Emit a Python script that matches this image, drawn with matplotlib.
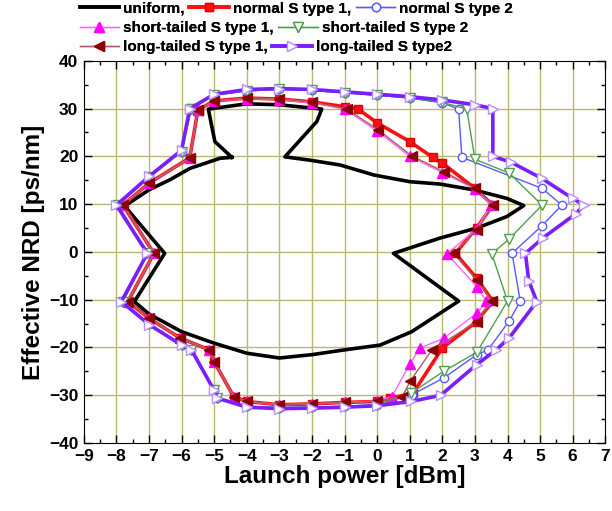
import numpy as np
import matplotlib
matplotlib.use("Agg")
import matplotlib.pyplot as plt
from matplotlib.ticker import MultipleLocator

plt.rcParams['font.family'] = ['Liberation Sans', 'DejaVu Sans']
plt.rcParams['font.weight'] = 'bold'

#### contour data: launch power [dBm] vs effective NRD [ps/nm]
uniform_x = [-4.46, -4.98, -5.18, -4.0, -3.0, -1.7, -1.85, -2.83, -2.06, -1.14, -0.1, 1.0, 1.93, 2.96, 3.98, 4.5,
             3.98, 3.06, 1.93, 0.5, 2.5, 1.06, 0.09, -1.0, -2.0, -3.0, -4.0, -5.0, -6.0, -7.0, -7.45, -6.52,
             -7.75, -7.0, -6.36, -5.74, -4.82, -4.46]
uniform_y = [19.8, 23.1, 29.9, 31.0, 30.8, 29.9, 27.3, 19.9, 19.2, 18.2, 16.1, 14.7, 14.2, 13.0, 11.2, 9.7,
             7.4, 5.0, 2.9, -0.3, -10.3, -16.7, -19.5, -20.5, -21.5, -22.2, -21.2, -19.1, -16.7, -13.0, -10.4, -0.3,
             9.6, 13.0, 15.1, 17.5, 19.6, 19.8]

normal1_x = [-5.5, -5.0, -4.0, -3.0, -2.0, -1.0, -0.6, 0.0, 1.0, 1.7, 2.0, 3.0, 3.55, 3.05, 2.4, 3.05, 3.55,
             3.05, 2.0, 1.1, 0.4, 0.0, -1.0, -2.0, -3.0, -4.0, -4.4, -5.0, -5.15, -6.05, -7.0, -7.65, -6.85,
             -7.8, -7.0, -5.75, -5.5]
normal1_y = [29.7, 31.6, 32.2, 32.0, 31.4, 30.4, 30.0, 27.0, 23.1, 19.8, 18.6, 13.3, 9.8, 5.0, -0.3, -5.5, -10.3,
             -14.6, -20.1, -29.6, -30.6, -31.3, -31.5, -31.8, -32.0, -31.3, -30.3, -23.0, -20.5, -18.0, -13.9, -10.4, -0.3,
             9.8, 14.4, 19.7, 29.7]

normal2_x = [-5.7, -5.0, -4.0, -3.0, -2.0, -1.0, 0.0, 1.0, 2.0, 2.5, 2.6, 5.06, 5.67, 5.06, 4.14, 4.39, 4.05,
             3.4, 3.06, 2.04, 1.06, 0.0, -1.0, -2.0, -3.0, -4.0, -4.9, -5.0, -5.7, -6.0, -7.0, -7.8, -7.05,
             -7.95, -7.0, -6.0, -5.7]
normal2_y = [30.0, 32.8, 33.7, 34.0, 33.8, 33.3, 32.8, 32.2, 31.2, 29.9, 19.8, 13.3, 9.8, 5.5, -0.3, -10.3, -14.5,
             -20.5, -21.5, -26.4, -29.9, -32.0, -32.3, -32.5, -32.6, -32.3, -30.5, -28.8, -20.5, -19.5, -15.0, -10.4, -0.3,
             9.8, 15.6, 21.0, 30.0]

short1_x = [-5.5, -5.0, -4.0, -3.0, -2.0, -1.0, 0.0, 1.0, 2.0, 3.0, 3.5, 3.05, 2.14, 3.06, 3.35, 3.06, 2.04,
            1.32, 1.01, 0.45, 0.0, -1.0, -2.0, -3.0, -4.0, -4.4, -5.0, -5.15, -6.05, -7.0, -7.65, -6.85,
            -7.8, -7.0, -5.75, -5.5]
short1_y = [29.7, 31.5, 32.1, 31.9, 31.2, 29.9, 25.3, 20.0, 16.6, 13.2, 9.8, 4.8, -0.4, -7.3, -10.3, -12.8, -18.1,
            -20.1, -23.4, -30.3, -31.2, -31.5, -31.8, -32.0, -31.3, -30.3, -23.0, -20.5, -18.0, -13.9, -10.4, -0.3,
            9.8, 14.4, 19.7, 29.7]

short2_x = [-5.7, -5.0, -4.0, -3.0, -2.0, -1.0, 0.0, 1.0, 2.0, 2.75, 3.0, 4.05, 5.06, 4.05, 3.52, 4.0, 3.06,
            2.04, 1.03, 0.0, -1.0, -2.0, -3.0, -4.0, -4.9, -5.0, -5.7, -6.0, -7.0, -7.8, -7.05,
            -7.95, -7.0, -6.0, -5.7]
short2_y = [30.0, 32.8, 33.7, 34.0, 33.8, 33.3, 32.8, 32.2, 31.3, 29.9, 19.4, 16.5, 9.8, 2.7, -0.4, -10.3, -21.0,
            -25.0, -29.6, -32.0, -32.3, -32.5, -32.6, -32.3, -30.5, -28.8, -20.5, -19.5, -15.0, -10.4, -0.3,
            9.8, 15.6, 21.0, 30.0]

long1_x = [-5.5, -5.0, -4.0, -3.0, -2.0, -0.93, 0.04, 1.06, 2.04, 3.0, 3.57, 3.06, 2.35, 3.06, 3.52, 3.06,
           1.68, 1.01, 0.76, 0.0, -1.0, -2.0, -3.0, -4.0, -4.4, -5.0, -5.15, -6.05, -7.0, -7.65, -6.85,
           -7.8, -7.0, -5.75, -5.5]
long1_y = [29.7, 31.6, 32.2, 32.0, 31.4, 29.9, 25.5, 20.1, 16.8, 13.3, 9.8, 4.6, -0.3, -5.9, -10.3, -14.6,
           -20.5, -27.1, -30.4, -31.3, -31.5, -31.8, -32.0, -31.3, -30.3, -23.0, -20.5, -18.0, -13.9, -10.4, -0.3,
           9.8, 14.4, 19.7, 29.7]

long2_x = [-5.75, -5.0, -4.0, -3.0, -2.0, -1.0, 0.0, 1.0, 2.0, 3.0, 3.55, 3.55, 4.1, 5.05, 6.0, 6.35, 6.1,
           5.1, 4.55, 4.65, 4.9, 4.05, 3.65, 3.05, 1.95, 1.05, 0.0, -1.0, -2.0, -3.0, -4.0, -4.9, -5.0,
           -5.7, -6.0, -7.0, -7.85, -7.05, -8.0, -7.0, -6.0, -5.75]
long2_y = [30.0, 33.0, 34.0, 34.2, 34.0, 33.5, 33.0, 32.5, 31.8, 30.8, 30.0, 20.0, 18.8, 15.4, 11.2, 9.8, 8.0,
           3.0, -0.3, -6.0, -10.4, -18.0, -20.5, -23.6, -30.0, -31.3, -32.2, -32.5, -32.7, -32.8, -32.5, -30.6, -29.0,
           -20.5, -19.5, -15.2, -10.4, -0.3, 9.8, 15.8, 21.3, 30.0]

fig = plt.figure(figsize=(6.12, 5.11), dpi=100)
ax = fig.add_axes([0.137, 0.133, 0.852, 0.748])

grid_col = '#bcb870'
for gx in np.arange(-8, 7, 1):
    ax.axvline(gx, color=grid_col, lw=1.0, zorder=0)
for gy in np.arange(-30, 40, 10):
    ax.axhline(gy, color=grid_col, lw=1.0, zorder=0)

h_uni, = ax.plot(uniform_x, uniform_y, color='black', lw=2.6, label='uniform,')
h_n1, = ax.plot(normal1_x, normal1_y, color='#ff1010', lw=2.6, marker='s', ms=5.5,
                mfc='#ff1010', mec='#e00000', label='normal S type 1,')
h_n2, = ax.plot(normal2_x, normal2_y, color='#5a5aff', lw=1.0, marker='o', ms=6,
                mfc='white', mec='#5a5aff', label='normal S type 2')
h_s1, = ax.plot(short1_x, short1_y, color='#ff66ff', lw=1.0, marker='^', ms=6.5,
                mfc='#ff00ff', mec='#ff00ff', label='short-tailed S type 1,')
h_s2, = ax.plot(short2_x, short2_y, color='#50a050', lw=1.0, marker='v', ms=6.5,
                mfc='white', mec='#50a050', label='short-tailed S type 2')
h_l1, = ax.plot(long1_x, long1_y, color='#a86060', lw=1.0, marker='<', ms=6.5,
                mfc='#8b0000', mec='#8b0000', label='long-tailed S type 1,')
h_l2, = ax.plot(long2_x, long2_y, color='#7a1eff', lw=2.6, marker='>', ms=7.5,
                mfc='white', mec='#b890ff', label='long-tailed S type2')

ax.set_xlim(-9, 7)
ax.set_ylim(-40, 40)
ax.xaxis.set_major_locator(MultipleLocator(1))
ax.xaxis.set_minor_locator(MultipleLocator(0.5))
ax.yaxis.set_major_locator(MultipleLocator(10))
ax.yaxis.set_minor_locator(MultipleLocator(5))
ax.tick_params(which='both', direction='in', top=True, right=True, width=1.0)
ax.tick_params(which='major', length=6, labelsize=12.5, pad=4)
ax.tick_params(which='minor', length=3)
for lab in ax.get_xticklabels() + ax.get_yticklabels():
    lab.set_fontweight('bold')

ax.set_xlabel('Launch power [dBm]', fontsize=17.5, fontweight='bold', labelpad=1)
ax.set_ylabel('Effective NRD [ps/nm]', fontsize=17.5, fontweight='bold', labelpad=3)

# legend laid out as three rows
rows = [([h_uni, h_n1, h_n2], 0.997), ([h_s1, h_s2], 0.958), ([h_l1, h_l2], 0.922)]
for handles, ypos in rows:
    leg = fig.legend(handles=handles, loc='upper left', bbox_to_anchor=(0.13, ypos),
                     ncol=len(handles), frameon=False, handlelength=2.6,
                     handletextpad=0.25, columnspacing=0.3, borderaxespad=0, borderpad=0,
                     prop={'weight': 'bold', 'size': 11})
    fig.add_artist(leg)

fig.savefig('out.png', dpi=100)
